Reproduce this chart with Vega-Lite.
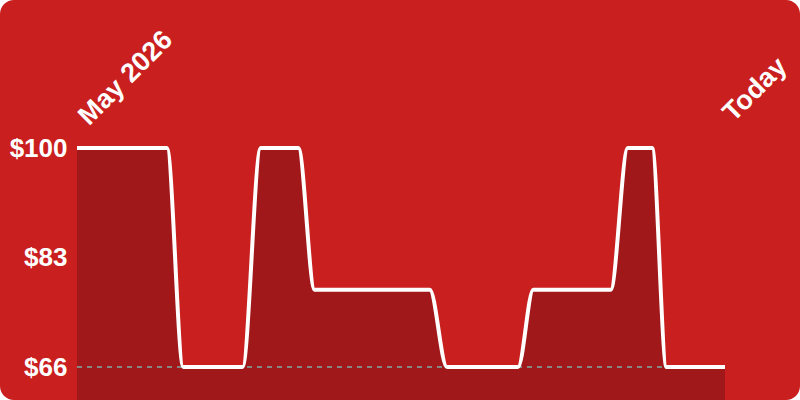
{
  "$schema": "https://vega.github.io/schema/vega-lite/v6.json",
  "width": 800,
  "height": 400,
  "autosize": {"type": "fit", "contains": "padding"},
  "padding": 0,
  "background": "white",
  "config": {
    "view": {"fill": "#c91f1f", "stroke": null, "cornerRadius": 14},
    "text": {"font": "Liberation Sans"}
  },
  "data": {
    "values": [
      {"day": 0, "price": 100},
      {"day": 5.0, "price": 100},
      {"day": 5.9, "price": 66},
      {"day": 9.2, "price": 66},
      {"day": 10.2, "price": 100},
      {"day": 12.3, "price": 100},
      {"day": 13.2, "price": 78},
      {"day": 19.6, "price": 78},
      {"day": 20.55, "price": 66},
      {"day": 24.5, "price": 66},
      {"day": 25.35, "price": 78},
      {"day": 29.65, "price": 78},
      {"day": 30.6, "price": 100},
      {"day": 31.95, "price": 100},
      {"day": 32.75, "price": 66},
      {"day": 36, "price": 66}
    ]
  },
  "encoding": {
    "x": {
      "field": "day",
      "type": "quantitative",
      "scale": {"domain": [-4.278, 40.167], "nice": false, "zero": false},
      "axis": null
    }
  },
  "layer": [
    {
      "mark": {"type": "area", "interpolate": "monotone", "color": "#a1181a"},
      "encoding": {
        "y": {
          "field": "price",
          "type": "quantitative",
          "scale": {"domain": [60.88, 123], "nice": false, "zero": false, "clamp": true},
          "axis": {
            "values": [66, 83, 100],
            "labelExpr": "'$' + datum.value",
            "orient": "left",
            "offset": -77,
            "domain": false,
            "ticks": false,
            "grid": false,
            "labelPadding": 10,
            "labelFont": "Liberation Sans",
            "labelFontSize": 26,
            "labelFontWeight": "bold",
            "labelColor": "white",
            "title": null
          }
        },
        "y2": {"datum": 50}
      }
    },
    {
      "mark": {"type": "rule", "strokeDash": [5, 5], "color": "#8c8c8c", "opacity": 0.3, "strokeWidth": 1.5},
      "encoding": {
        "x": {"datum": 0},
        "x2": {"datum": 36},
        "y": {"datum": 66}
      }
    },
    {
      "mark": {"type": "line", "interpolate": "monotone", "color": "white", "strokeWidth": 4, "strokeJoin": "round"},
      "encoding": {
        "y": {"field": "price", "type": "quantitative"}
      }
    },
    {
      "data": {"values": [{"day": 0, "label": "May 2026"}]},
      "mark": {
        "type": "text",
        "angle": -45,
        "align": "left",
        "baseline": "alphabetic",
        "fontSize": 27,
        "fontWeight": "bold",
        "color": "white",
        "dx": 17
      },
      "encoding": {
        "y": {"datum": 101.5},
        "text": {"field": "label"}
      }
    },
    {
      "data": {"values": [{"day": 36, "label": "Today"}]},
      "mark": {
        "type": "text",
        "angle": -45,
        "align": "left",
        "baseline": "alphabetic",
        "fontSize": 27,
        "fontWeight": "bold",
        "color": "white",
        "dx": 12
      },
      "encoding": {
        "y": {"datum": 102.6},
        "text": {"field": "label"}
      }
    }
  ]
}
